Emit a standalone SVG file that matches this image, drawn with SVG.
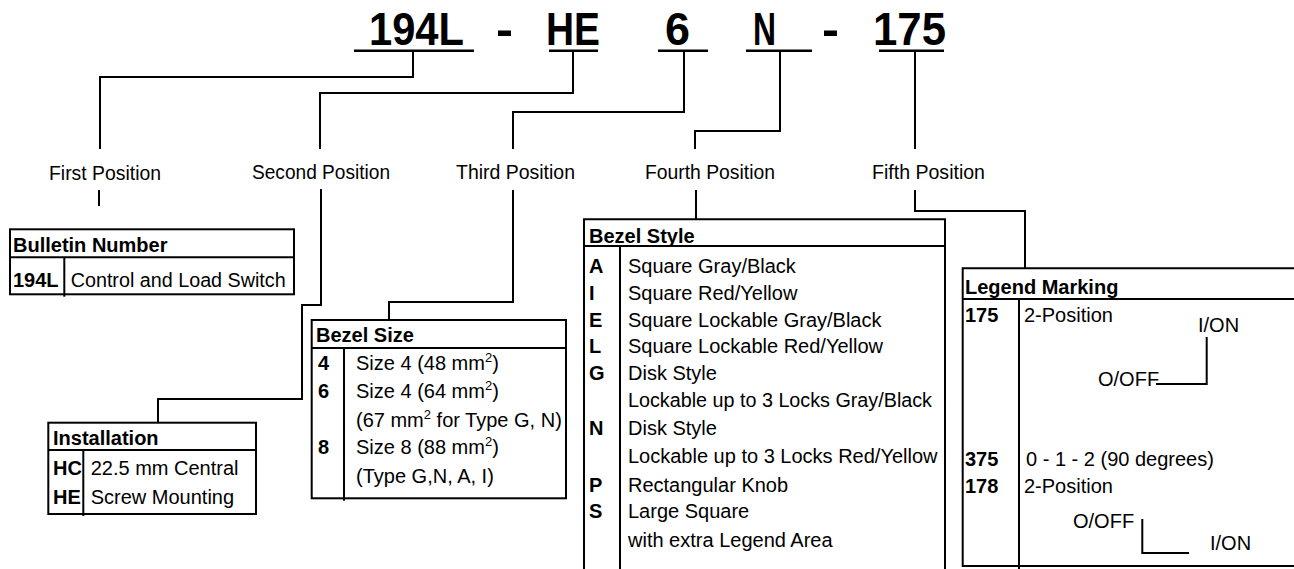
<svg xmlns="http://www.w3.org/2000/svg" width="1294" height="569" viewBox="0 0 1294 569">
<style>
  text { font-family: "Liberation Sans", Arial, sans-serif; fill: #000; }
  .big { font-size: 46px; font-weight: bold; }
  .lbl { font-size: 20px; }
  .t { font-size: 20px; }
  .b { font-size: 20px; font-weight: bold; }
  .ln { stroke: #000; stroke-width: 2; fill: none; }
  .box { stroke: #000; stroke-width: 2; fill: #fff; }
  .ul { stroke: #000; stroke-width: 2.5; fill: none; }
</style>
<rect width="1294" height="569" fill="#fff"/>

<g id="code">
  <text class="big" x="369" y="45" textLength="95" lengthAdjust="spacingAndGlyphs">194L</text>
  <text class="big" x="496" y="45" textLength="17" lengthAdjust="spacingAndGlyphs">-</text>
  <text class="big" x="546" y="45" textLength="54" lengthAdjust="spacingAndGlyphs">HE</text>
  <text class="big" x="665" y="45" textLength="25" lengthAdjust="spacingAndGlyphs">6</text>
  <text class="big" x="753" y="45" textLength="23" lengthAdjust="spacingAndGlyphs">N</text>
  <text class="big" x="822" y="45" textLength="17" lengthAdjust="spacingAndGlyphs">-</text>
  <text class="big" x="873" y="45" textLength="73" lengthAdjust="spacingAndGlyphs">175</text>
  <line class="ul" x1="354" y1="50.7" x2="474" y2="50.7"/>
  <line class="ul" x1="549" y1="50.7" x2="598" y2="50.7"/>
  <line class="ul" x1="658" y1="50.7" x2="708" y2="50.7"/>
  <line class="ul" x1="746" y1="50.7" x2="812" y2="50.7"/>
  <line class="ul" x1="879" y1="50.7" x2="944" y2="50.7"/>
</g>

<g id="connectors">
  <polyline class="ln" points="413,51 413,77 100,77 100,149"/>
  <polyline class="ln" points="573,51 573,93 320,93 320,149"/>
  <polyline class="ln" points="684,51 684,112 513,112 513,149"/>
  <polyline class="ln" points="780,51 780,131 695,131 695,149"/>
  <polyline class="ln" points="915,51 915,149"/>
  <line class="ln" x1="99" y1="190" x2="99" y2="206"/>
  <polyline class="ln" points="321,189 321,305 302,305 302,399 158,399 158,423"/>
  <polyline class="ln" points="513,190 513,302 389,302 389,320"/>
  <polyline class="ln" points="696,190 696,219"/>
  <polyline class="ln" points="915,190 915,211 1025,211 1025,268"/>
</g>

<g id="labels">
  <text class="lbl" x="49" y="180" textLength="112" lengthAdjust="spacingAndGlyphs">First Position</text>
  <text class="lbl" x="252" y="179" textLength="138" lengthAdjust="spacingAndGlyphs">Second Position</text>
  <text class="lbl" x="456" y="179" textLength="119" lengthAdjust="spacingAndGlyphs">Third Position</text>
  <text class="lbl" x="645" y="179" textLength="130" lengthAdjust="spacingAndGlyphs">Fourth Position</text>
  <text class="lbl" x="872" y="179" textLength="113" lengthAdjust="spacingAndGlyphs">Fifth Position</text>
</g>

<g id="bulletin">
  <rect class="box" x="10" y="229.3" width="284" height="65"/>
  <line class="ln" x1="10" y1="257.3" x2="294" y2="257.3"/>
  <line class="ln" x1="64.3" y1="257.3" x2="64.3" y2="296.7"/>
  <text class="b" x="13" y="251.7">Bulletin Number</text>
  <text class="b" x="13" y="286.7">194L</text>
  <text class="t" x="70.7" y="286.7" textLength="215" lengthAdjust="spacingAndGlyphs">Control and Load Switch</text>
</g>

<g id="installation">
  <rect class="box" x="48.3" y="422.7" width="207.7" height="91.3"/>
  <line class="ln" x1="48.3" y1="450" x2="256" y2="450"/>
  <line class="ln" x1="83.3" y1="450" x2="83.3" y2="516"/>
  <text class="b" x="53" y="445">Installation</text>
  <text class="b" x="53" y="475">HC</text>
  <text class="t" x="90.7" y="475">22.5 mm Central</text>
  <text class="b" x="53" y="504">HE</text>
  <text class="t" x="90.7" y="504">Screw Mounting</text>
</g>

<g id="bezel-size">
  <rect class="box" x="311.7" y="320" width="254.3" height="178.3"/>
  <line class="ln" x1="311.7" y1="348" x2="566" y2="348"/>
  <line class="ln" x1="344" y1="348" x2="344" y2="500.7"/>
  <text class="b" x="316" y="342">Bezel Size</text>
  <text class="b" x="318" y="370">4</text>
  <text class="t" x="356" y="370">Size 4 (48 mm<tspan dy="-8" font-size="13">2</tspan><tspan dy="8">)</tspan></text>
  <text class="b" x="318" y="398">6</text>
  <text class="t" x="356" y="398">Size 4 (64 mm<tspan dy="-8" font-size="13">2</tspan><tspan dy="8">)</tspan></text>
  <text class="t" x="356" y="427">(67 mm<tspan dy="-8" font-size="13">2</tspan><tspan dy="8"> for Type G, N)</tspan></text>
  <text class="b" x="318" y="454">8</text>
  <text class="t" x="356" y="454">Size 8 (88 mm<tspan dy="-8" font-size="13">2</tspan><tspan dy="8">)</tspan></text>
  <text class="t" x="356" y="483">(Type G,N, A, I)</text>
</g>

<g id="bezel-style">
  <polyline class="ln" points="584,571 584,219.3 945,219.3 945,571" fill="#fff"/>
  <line class="ln" x1="584" y1="246" x2="945" y2="246"/>
  <line class="ln" x1="620" y1="246" x2="620" y2="571"/>
  <text class="b" x="589" y="243.3">Bezel Style</text>
  <text class="b" x="589" y="273.3">A</text>
  <text class="t" x="628" y="273.3">Square Gray/Black</text>
  <text class="b" x="589" y="300">I</text>
  <text class="t" x="628" y="300">Square Red/Yellow</text>
  <text class="b" x="589" y="326.7">E</text>
  <text class="t" x="628" y="326.7">Square Lockable Gray/Black</text>
  <text class="b" x="589" y="353.3">L</text>
  <text class="t" x="628" y="353.3">Square Lockable Red/Yellow</text>
  <text class="b" x="589" y="379.5">G</text>
  <text class="t" x="628" y="379.5">Disk Style</text>
  <text class="t" x="628" y="406.7" textLength="304" lengthAdjust="spacingAndGlyphs">Lockable up to 3 Locks Gray/Black</text>
  <text class="b" x="589" y="435">N</text>
  <text class="t" x="628" y="435">Disk Style</text>
  <text class="t" x="628" y="463.3">Lockable up to 3 Locks Red/Yellow</text>
  <text class="b" x="589" y="491.7">P</text>
  <text class="t" x="628" y="491.7">Rectangular Knob</text>
  <text class="b" x="589" y="518.3">S</text>
  <text class="t" x="628" y="518.3">Large Square</text>
  <text class="t" x="628" y="546.7">with extra Legend Area</text>
</g>

<g id="legend-marking">
  <polyline class="ln" points="1296,268.3 962.7,268.3 962.7,566 1296,566"/>
  <line class="ln" x1="962.7" y1="299" x2="1296" y2="299"/>
  <line class="ln" x1="1019" y1="299" x2="1019" y2="569"/>
  <text class="b" x="965" y="294">Legend Marking</text>
  <text class="b" x="965" y="322">175</text>
  <text class="t" x="1024" y="322">2-Position</text>
  <text class="t" x="1198" y="332">I/ON</text>
  <polyline class="ln" points="1206.7,337 1206.7,384 1156,384"/>
  <text class="t" x="1098" y="386">O/OFF</text>
  <text class="b" x="965" y="466">375</text>
  <text class="t" x="1026" y="466">0 - 1 - 2 (90 degrees)</text>
  <text class="b" x="965" y="493">178</text>
  <text class="t" x="1024" y="493">2-Position</text>
  <text class="t" x="1073" y="528">O/OFF</text>
  <polyline class="ln" points="1142.3,519 1142.3,553 1189,553"/>
  <text class="t" x="1210" y="550">I/ON</text>
</g>
</svg>
